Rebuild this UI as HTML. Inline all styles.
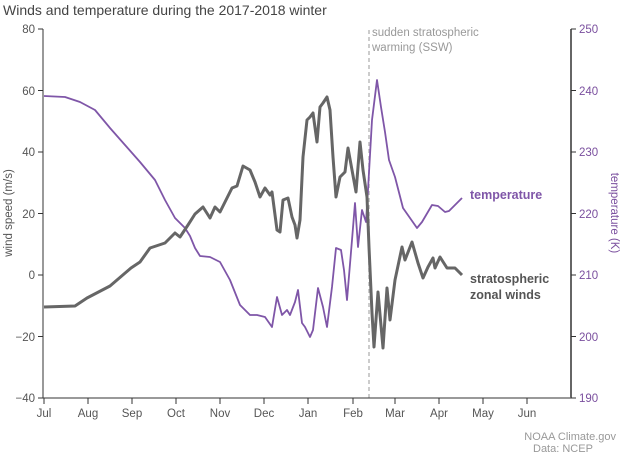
<!DOCTYPE html>
<html><head><style>body{margin:0;background:#fff}svg{display:block;font-family:"Liberation Sans",sans-serif}</style></head><body>
<svg width="620" height="454" xmlns="http://www.w3.org/2000/svg">
<text x="3" y="15" font-size="14" fill="#444">Winds and temperature during the 2017-2018 winter</text>
<line x1="369" y1="30" x2="369" y2="398" stroke="#bbb" stroke-dasharray="4,3" stroke-width="1.5"/>
<text x="372" y="36" font-size="11.5" fill="#999">sudden stratospheric</text>
<text x="372" y="51" font-size="11.5" fill="#999">warming (SSW)</text>
<g stroke="#333" stroke-width="1" fill="none">
<line x1="43" y1="29" x2="43" y2="398"/><line x1="42" y1="398" x2="572" y2="398"/>
</g>
<line x1="571" y1="29" x2="571" y2="398" stroke="#666" stroke-width="2"/>
<g stroke="#333" stroke-width="1">
<line x1="38" y1="29" x2="43" y2="29"/><line x1="38" y1="90.5" x2="43" y2="90.5"/><line x1="38" y1="152" x2="43" y2="152"/><line x1="38" y1="213.5" x2="43" y2="213.5"/><line x1="38" y1="275" x2="43" y2="275"/><line x1="38" y1="336.5" x2="43" y2="336.5"/><line x1="38" y1="398" x2="43" y2="398"/>
<line x1="571" y1="29" x2="576" y2="29"/><line x1="571" y1="90.5" x2="576" y2="90.5"/><line x1="571" y1="152" x2="576" y2="152"/><line x1="571" y1="213.5" x2="576" y2="213.5"/><line x1="571" y1="275" x2="576" y2="275"/><line x1="571" y1="336.5" x2="576" y2="336.5"/><line x1="571" y1="398" x2="576" y2="398"/>
<line x1="44" y1="398" x2="44" y2="404"/><line x1="88" y1="398" x2="88" y2="404"/><line x1="132" y1="398" x2="132" y2="404"/><line x1="176" y1="398" x2="176" y2="404"/><line x1="220" y1="398" x2="220" y2="404"/><line x1="264" y1="398" x2="264" y2="404"/><line x1="308" y1="398" x2="308" y2="404"/><line x1="353" y1="398" x2="353" y2="404"/><line x1="395" y1="398" x2="395" y2="404"/><line x1="439" y1="398" x2="439" y2="404"/><line x1="483" y1="398" x2="483" y2="404"/><line x1="527" y1="398" x2="527" y2="404"/>
</g>
<g font-size="11.5" fill="#555" text-anchor="end">
<text x="35" y="33">80</text><text x="35" y="95">60</text><text x="35" y="156">40</text><text x="35" y="218">20</text><text x="35" y="279">0</text><text x="35" y="341">−20</text><text x="35" y="402">−40</text>
</g>
<g font-size="11.5" fill="#7a4f9e">
<text x="579" y="33">250</text><text x="579" y="95">240</text><text x="579" y="156">230</text><text x="579" y="218">220</text><text x="579" y="279">210</text><text x="579" y="341">200</text><text x="579" y="402">190</text>
</g>
<g font-size="11.5" fill="#555" text-anchor="middle">
<text x="44" y="417">Jul</text><text x="88" y="417">Aug</text><text x="132" y="417">Sep</text><text x="176" y="417">Oct</text><text x="220" y="417">Nov</text><text x="264" y="417">Dec</text><text x="308" y="417">Jan</text><text x="353" y="417">Feb</text><text x="395" y="417">Mar</text><text x="439" y="417">Apr</text><text x="483" y="417">May</text><text x="527" y="417">Jun</text>
</g>
<text transform="translate(12,213) rotate(-90)" font-size="11.5" fill="#555" text-anchor="middle">wind speed (m/s)</text>
<text transform="translate(611,213) rotate(90)" font-size="11.5" fill="#7a4f9e" text-anchor="middle">temperature (K)</text>
<polyline fill="none" stroke="#7f56a8" stroke-width="1.8" stroke-linejoin="round" points="44,96 65,97 80,102 95,110 110,128 125,145 140,162 155,180 165,200 175,218 185,228 190,236 195,248 200,256 210,257 220,262 230,280 240,305 250,315 257,315 265,317 272,327 277,297 282,315 287,310 290,315 295,302 298,290 302,323 305,327 310,337 313,330 318,288 323,307 327,327 332,287 336,248 341,250 344,270 347,300 352,240 355,203 358,247 362,210 366,222 368,190 372,120 377,80 381,107 385,132 389,160 395,177 403,208 410,218 417,228 422,222 432,205 438,206 445,212 449,211 462,198"/>
<polyline fill="none" stroke="#666" stroke-width="3" stroke-linejoin="round" points="44,307 75,306 87,298 110,286 131,268 140,262 150,248 165,243 175,233 180,237 188,225 195,214 203,207 210,218 215,207 220,212 225,202 232,188 237,186 243,166 250,170 255,182 260,197 265,188 270,195 272,192 277,230 280,232 283,200 288,198 292,217 295,225 297,238 300,220 303,157 307,120 310,117 313,113 317,142 320,107 323,103 327,97 330,110 333,157 336,197 340,177 345,172 348,148 352,170 356,192 360,142 363,170 367,197 369,247 372,313 374,347 378,292 383,348 387,288 390,320 395,280 402,247 405,260 412,242 418,263 423,278 428,267 433,258 435,268 440,257 447,268 455,268 462,275"/>
<text x="470" y="199" font-size="12.5" font-weight="bold" fill="#7f56a8">temperature</text>
<text x="470" y="283" font-size="12.5" font-weight="bold" fill="#555">stratospheric</text>
<text x="470" y="299" font-size="12.5" font-weight="bold" fill="#555">zonal winds</text>
<text x="616" y="440" font-size="11" fill="#999" text-anchor="end">NOAA Climate.gov</text>
<text x="533" y="452" font-size="11" fill="#999">Data: NCEP</text>
</svg>
</body></html>
